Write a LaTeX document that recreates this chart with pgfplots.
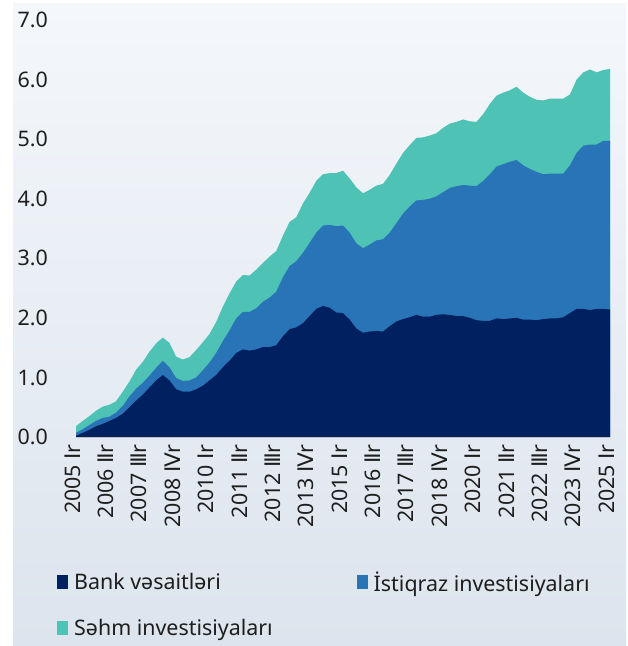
\documentclass[border=0pt]{standalone}
\usepackage{fontspec}
\setmainfont{Noto Sans}
\newfontfamily\romfont{DejaVu Sans}
\usepackage{pgfplots}
\usepackage{pgfplotstable}
\pgfplotsset{compat=1.18}

\definecolor{bankc}{RGB}{0,32,96}
\definecolor{istc}{RGB}{41,116,182}
\definecolor{sahmc}{RGB}{78,194,180}
\definecolor{bgtop}{RGB}{244,247,251}
\definecolor{bgbot}{RGB}{220,228,237}
\definecolor{txt}{RGB}{30,30,30}

\newcommand{\q}[1]{{\romfont #1}}

% cumulative levels: bank, bank+bonds, total
\pgfplotstableread{
i bank bond total
0 0.02 0.07 0.18
1 0.07 0.13 0.27
2 0.12 0.20 0.35
3 0.18 0.27 0.44
4 0.22 0.32 0.51
5 0.27 0.34 0.54
6 0.32 0.41 0.60
7 0.39 0.52 0.76
8 0.50 0.68 0.93
9 0.61 0.81 1.13
10 0.71 0.91 1.26
11 0.83 1.03 1.43
12 0.95 1.16 1.57
13 1.04 1.28 1.67
14 0.95 1.17 1.58
15 0.80 0.99 1.35
16 0.76 0.94 1.30
17 0.76 0.95 1.34
18 0.80 1.00 1.46
19 0.86 1.12 1.59
20 0.95 1.25 1.73
21 1.04 1.41 1.93
22 1.17 1.61 2.19
23 1.28 1.79 2.41
24 1.41 1.99 2.61
25 1.47 2.10 2.72
26 1.45 2.10 2.71
27 1.47 2.16 2.81
28 1.51 2.27 2.92
29 1.51 2.34 3.03
30 1.54 2.44 3.12
31 1.69 2.68 3.38
32 1.81 2.87 3.61
33 1.84 2.95 3.69
34 1.91 3.09 3.92
35 2.03 3.26 4.10
36 2.15 3.43 4.30
37 2.20 3.55 4.41
38 2.17 3.56 4.43
39 2.09 3.54 4.43
40 2.08 3.55 4.47
41 1.97 3.43 4.34
42 1.82 3.25 4.19
43 1.75 3.17 4.09
44 1.77 3.23 4.15
45 1.78 3.30 4.22
46 1.77 3.32 4.25
47 1.86 3.43 4.40
48 1.94 3.59 4.59
49 1.98 3.75 4.77
50 2.01 3.87 4.90
51 2.05 3.97 5.02
52 2.02 3.98 5.03
53 2.02 4.00 5.06
54 2.05 4.04 5.10
55 2.06 4.11 5.19
56 2.05 4.18 5.26
57 2.03 4.21 5.29
58 2.03 4.23 5.33
59 2.00 4.22 5.30
60 1.96 4.21 5.29
61 1.95 4.30 5.42
62 1.95 4.41 5.59
63 1.99 4.54 5.73
64 1.98 4.58 5.78
65 1.99 4.62 5.82
66 2.00 4.65 5.88
67 1.97 4.56 5.78
68 1.97 4.50 5.71
69 1.96 4.45 5.66
70 1.98 4.41 5.65
71 1.99 4.42 5.68
72 1.99 4.42 5.68
73 2.01 4.42 5.68
74 2.08 4.56 5.75
75 2.15 4.77 6.00
76 2.15 4.89 6.12
77 2.13 4.91 6.17
78 2.15 4.91 6.12
79 2.15 4.97 6.16
80 2.14 4.97 6.18
}\assets

\begin{document}
\begin{tikzpicture}
\fill[white] (0,0) rectangle (628bp,646bp);
\shade[top color=bgtop, bottom color=bgbot] (13bp,0) rectangle (626bp,642bp);
\begin{axis}[
    at={(76bp,209bp)}, anchor=south west,
    scale only axis,
    width=534bp, height=417bp,
    xmin=0, xmax=80, ymin=0, ymax=7,
    axis x line*=bottom, axis y line*=left,
    x axis line style={draw=black!25, line width=1.5bp},
    y axis line style={draw=none},
    major tick length=0pt,
    ytick={0,1,...,7},
    yticklabels={0.0,1.0,2.0,3.0,4.0,5.0,6.0,7.0},
    yticklabel style={font=\fontsize{21.5}{24}\selectfont, text=txt, anchor=east, inner sep=0pt, xshift=-28bp},
    xtick={0,5,...,80},
    xticklabels={2005 \q{Ⅰ}r,2006 \q{Ⅱ}r,2007 \q{Ⅲ}r,2008 \q{Ⅳ}r,2010 \q{Ⅰ}r,2011 \q{Ⅱ}r,2012 \q{Ⅲ}r,2013 \q{Ⅳ}r,2015 \q{Ⅰ}r,2016 \q{Ⅱ}r,2017 \q{Ⅲ}r,2018 \q{Ⅳ}r,2020 \q{Ⅰ}r,2021 \q{Ⅱ}r,2022 \q{Ⅲ}r,2023 \q{Ⅳ}r,2025 \q{Ⅰ}r},
    xticklabel style={font=\fontsize{21.5}{24}\selectfont, text=txt, xshift=-3.5bp, yshift=-7bp, rotate=90, anchor=east, inner sep=0pt},
    reverse legend,
    legend columns=2,
    legend cell align=left,
    legend image code/.code={\fill[#1] (0bp,-7bp) rectangle (11bp,7bp);},
    legend style={at={(-0.0356,-0.318)}, anchor=north west, draw=none, fill=none,
        inner sep=0pt, row sep=22bp,
        font=\fontsize{21.5}{24}\selectfont, text=txt,
        /tikz/column 1/.style={column sep=4bp},
        /tikz/column 2/.style={column sep=82bp},
        /tikz/column 3/.style={column sep=4bp}},
]
\addplot[fill=sahmc, draw=none] table[x=i, y=total] {\assets} \closedcycle;
\addlegendentry{Səhm investisiyaları}
\addplot[fill=istc, draw=none] table[x=i, y=bond] {\assets} \closedcycle;
\addlegendentry{İstiqraz investisiyaları}
\addplot[fill=bankc, draw=none] table[x=i, y=bank] {\assets} \closedcycle;
\addlegendentry{Bank vəsaitləri}
\end{axis}
\end{tikzpicture}
\end{document}
